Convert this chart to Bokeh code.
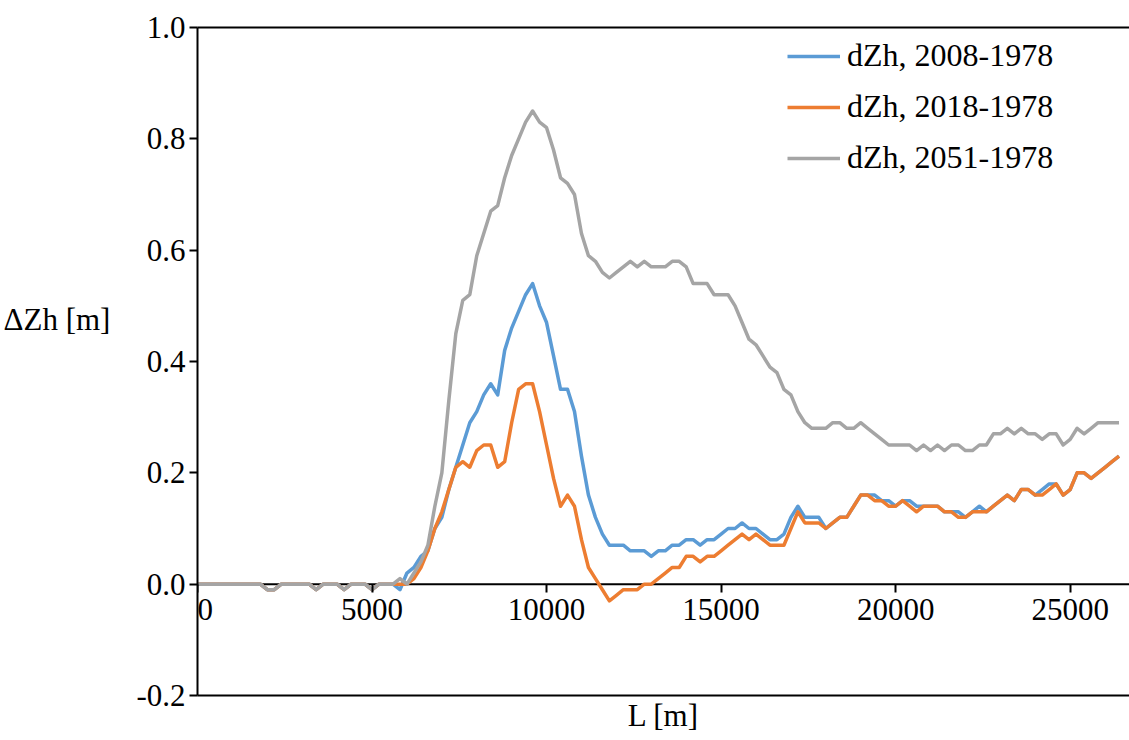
from bokeh.plotting import figure
from bokeh.models import (Range1d, LinearAxis, FixedTicker, NumeralTickFormatter, Span,
                          Legend, LegendItem)
from bokeh.embed import file_html
from bokeh.resources import INLINE

# ---------------- data ----------------
L_M = list(range(0, 26401, 200))

DZH_2008 = [0, 0, 0, 0, 0, 0, 0, 0, 0, 0,
            -0.01, -0.01, 0, 0, 0, 0, 0, -0.01, 0, 0,
            0, -0.01, 0, 0, 0, -0.01, 0, 0, 0, -0.01,
            0.02, 0.03, 0.05, 0.06, 0.10, 0.12, 0.17, 0.21, 0.25, 0.29,
            0.31, 0.34, 0.36, 0.34, 0.42, 0.46, 0.49, 0.52, 0.54, 0.50,
            0.47, 0.41, 0.35, 0.35, 0.31, 0.23, 0.16, 0.12, 0.09, 0.07,
            0.07, 0.07, 0.06, 0.06, 0.06, 0.05, 0.06, 0.06, 0.07, 0.07,
            0.08, 0.08, 0.07, 0.08, 0.08, 0.09, 0.10, 0.10, 0.11, 0.10,
            0.10, 0.09, 0.08, 0.08, 0.09, 0.12, 0.14, 0.12, 0.12, 0.12,
            0.10, 0.11, 0.12, 0.12, 0.14, 0.16, 0.16, 0.16, 0.15, 0.15,
            0.14, 0.15, 0.15, 0.14, 0.14, 0.14, 0.14, 0.13, 0.13, 0.13,
            0.12, 0.13, 0.14, 0.13, 0.14, 0.15, 0.16, 0.15, 0.17, 0.17,
            0.16, 0.17, 0.18, 0.18, 0.16, 0.17, 0.20, 0.20, 0.19, 0.20,
            0.21, 0.22, 0.23]

DZH_2018 = [0, 0, 0, 0, 0, 0, 0, 0, 0, 0,
            -0.01, -0.01, 0, 0, 0, 0, 0, -0.01, 0, 0,
            0, -0.01, 0, 0, 0, -0.01, 0, 0, 0, 0.00,
            0.00, 0.01, 0.03, 0.06, 0.10, 0.13, 0.17, 0.21, 0.22, 0.21,
            0.24, 0.25, 0.25, 0.21, 0.22, 0.29, 0.35, 0.36, 0.36, 0.31,
            0.25, 0.19, 0.14, 0.16, 0.14, 0.08, 0.03, 0.01, -0.01, -0.03,
            -0.02, -0.01, -0.01, -0.01, 0.00, 0.00, 0.01, 0.02, 0.03, 0.03,
            0.05, 0.05, 0.04, 0.05, 0.05, 0.06, 0.07, 0.08, 0.09, 0.08,
            0.09, 0.08, 0.07, 0.07, 0.07, 0.10, 0.13, 0.11, 0.11, 0.11,
            0.10, 0.11, 0.12, 0.12, 0.14, 0.16, 0.16, 0.15, 0.15, 0.14,
            0.14, 0.15, 0.14, 0.13, 0.14, 0.14, 0.14, 0.13, 0.13, 0.12,
            0.12, 0.13, 0.13, 0.13, 0.14, 0.15, 0.16, 0.15, 0.17, 0.17,
            0.16, 0.16, 0.17, 0.18, 0.16, 0.17, 0.20, 0.20, 0.19, 0.20,
            0.21, 0.22, 0.23]

DZH_2051 = [0, 0, 0, 0, 0, 0, 0, 0, 0, 0,
            -0.01, -0.01, 0, 0, 0, 0, 0, -0.01, 0, 0,
            0, -0.01, 0, 0, 0, -0.01, 0, 0, 0, 0.01,
            0.00, 0.02, 0.04, 0.07, 0.14, 0.20, 0.33, 0.45, 0.51, 0.52,
            0.59, 0.63, 0.67, 0.68, 0.73, 0.77, 0.80, 0.83, 0.85, 0.83,
            0.82, 0.78, 0.73, 0.72, 0.70, 0.63, 0.59, 0.58, 0.56, 0.55,
            0.56, 0.57, 0.58, 0.57, 0.58, 0.57, 0.57, 0.57, 0.58, 0.58,
            0.57, 0.54, 0.54, 0.54, 0.52, 0.52, 0.52, 0.50, 0.47, 0.44,
            0.43, 0.41, 0.39, 0.38, 0.35, 0.34, 0.31, 0.29, 0.28, 0.28,
            0.28, 0.29, 0.29, 0.28, 0.28, 0.29, 0.28, 0.27, 0.26, 0.25,
            0.25, 0.25, 0.25, 0.24, 0.25, 0.24, 0.25, 0.24, 0.25, 0.25,
            0.24, 0.24, 0.25, 0.25, 0.27, 0.27, 0.28, 0.27, 0.28, 0.27,
            0.27, 0.26, 0.27, 0.27, 0.25, 0.26, 0.28, 0.27, 0.28, 0.29,
            0.29, 0.29, 0.29]

SERIES_NAMES = ["dZh, 2008-1978", "dZh, 2018-1978", "dZh, 2051-1978"]
SERIES_COLORS = ["#5B9BD5", "#ED7D31", "#A5A5A5"]

X_TICKS = [0, 5000, 10000, 15000, 20000, 25000]
X_TICK_LABELS = ["0", "5000", "10000", "15000", "20000", "25000"]
Y_TICKS = [-0.2, 0.0, 0.2, 0.4, 0.6, 0.8, 1.0]
X_TITLE = "L [m]"
Y_TITLE = "ΔZh [m]"

# ---------------- layout ----------------
W, H = 1129, 740
FL, FT, FB = 197, 27, 695          # frame left / top / bottom in px
XMAX = 26700
YMIN, YMAX = -0.2, 1.0
FONT = "Liberation Serif"
FS = "31px"
NBSP = "\u00a0"

p = figure(width=W, height=H, x_range=Range1d(0, XMAX), y_range=Range1d(YMIN, YMAX),
           output_backend="svg", toolbar_location=None, x_axis_type=None,
           min_border_left=FL, min_border_right=0, min_border_top=FT,
           min_border_bottom=H - FB)
p.outline_line_color = None
p.grid.visible = False
p.background_fill_color = "white"
p.border_fill_color = "white"

# y axis
ya = p.yaxis[0]
ya.ticker = FixedTicker(ticks=Y_TICKS)
ya.formatter = NumeralTickFormatter(format="0.0")
ya.axis_line_color = "black"
ya.axis_line_width = 2
ya.major_tick_line_color = "black"
ya.major_tick_line_width = 2
ya.major_tick_in = 0
ya.major_tick_out = 8
ya.minor_tick_line_color = None
ya.major_label_text_font = FONT
ya.major_label_text_font_size = FS
ya.major_label_text_color = "black"
ya.major_label_standoff = 4
# two blank trailing lines lift the title above the frame centre, as in the original
ya.axis_label = Y_TITLE + "\n" + NBSP + "\n" + NBSP
ya.axis_label_orientation = "horizontal"
ya.axis_label_text_font = FONT
ya.axis_label_text_font_size = FS
ya.axis_label_text_font_style = "normal"
ya.axis_label_text_color = "black"
ya.axis_label_standoff = 23

# frame top border as a bare axis
top = LinearAxis(ticker=FixedTicker(ticks=[]), axis_line_color="black", axis_line_width=2,
                 major_tick_line_color=None, minor_tick_line_color=None,
                 major_tick_out=0, major_label_standoff=0,
                 major_label_text_font_size="0px")
p.add_layout(top, "above")

# frame bottom border, carrying the x title
bottom = LinearAxis(ticker=FixedTicker(ticks=[]), axis_line_color="black", axis_line_width=2,
                    major_tick_line_color=None, minor_tick_line_color=None,
                    major_tick_out=0, major_label_standoff=0,
                    major_label_text_font_size="0px",
                    axis_label=X_TITLE, axis_label_text_font=FONT,
                    axis_label_text_font_size=FS, axis_label_text_font_style="normal",
                    axis_label_text_color="black", axis_label_standoff=2)
p.add_layout(bottom, "below")

# horizontal axis crossing at 0: line under the data, ticks and labels from an axis
p.add_layout(Span(location=0, dimension="width", line_color="black", line_width=2,
                  level="underlay"))
xlabels = {t: s for t, s in zip(X_TICKS, X_TICK_LABELS)}
xlabels[0] = NBSP + NBSP + X_TICK_LABELS[0]   # keep the "0" clear of the frame edge
xa = LinearAxis(fixed_location=0, ticker=FixedTicker(ticks=X_TICKS),
                major_label_overrides=xlabels,
                axis_line_color=None,
                major_tick_line_color="black", major_tick_line_width=2,
                major_tick_in=0, major_tick_out=8, minor_tick_line_color=None,
                major_label_text_font=FONT, major_label_text_font_size=FS,
                major_label_text_color="black", major_label_standoff=0)
p.add_layout(xa, "below")

# series
renderers = []
for ys, c in zip([DZH_2008, DZH_2018, DZH_2051], SERIES_COLORS):
    r = p.line(L_M, ys, line_color=c, line_width=3.5, line_join="round")
    renderers.append(r)

legend = Legend(items=[LegendItem(label=n, renderers=[r]) for n, r in zip(SERIES_NAMES, renderers)],
                location=(590, 519), label_text_font=FONT, label_text_font_size="32px",
                label_text_color="black", glyph_width=53, glyph_height=20,
                label_standoff=7, spacing=14, padding=0, margin=0,
                border_line_color=None, background_fill_alpha=0)
p.add_layout(legend)

open("out.html", "w").write(file_html(p, INLINE))
